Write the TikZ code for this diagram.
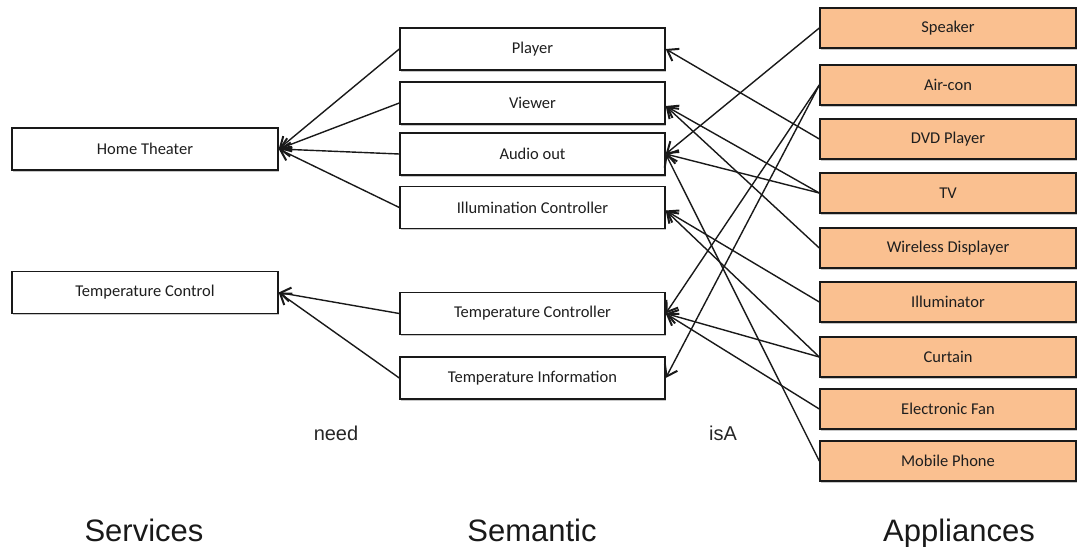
\documentclass[tikz,border=0pt]{standalone}
\usepackage{fontspec}
\setmainfont{Carlito}
\newfontfamily\headfont{Liberation Sans}
\usetikzlibrary{arrows.meta,shadows}
\definecolor{applfill}{HTML}{FAC090}
\definecolor{inktext}{HTML}{1E1E1E}
\tikzset{
  box/.style={draw=black!90, line width=1.4pt, fill=white,
    minimum width=266pt, minimum height=42pt, inner sep=0pt,
    font=\fontsize{16.5}{19}\selectfont, text=inktext,
    drop shadow={shadow xshift=0.6pt, shadow yshift=-1.8pt, opacity=0.22, fill=black}},
  appl/.style={box, fill=applfill, minimum width=256pt, minimum height=40pt},
  link/.style={line width=1.4pt, draw=black!90,
    -{Straight Barb[length=10pt,width=14pt,line width=2pt]}},
  note/.style={font=\headfont\fontsize{20}{24}\selectfont, text=black!85, anchor=base},
  head/.style={font=\headfont\fontsize{31}{36}\selectfont, text=black!90, anchor=base}
}
\begin{document}
\begin{tikzpicture}[x=1pt,y=-1pt]
\useasboundingbox (0,0) rectangle (1078,546);

% services
\node[box] (ht) at (145,149) {Home Theater};
\node[box] (tc) at (145,292.5) {Temperature Control};

% semantic layer
\node[box, minimum width=265pt] (player) at (532.5,49) {Player};
\node[box, minimum width=265pt] (viewer) at (532.5,103) {Viewer};
\node[box, minimum width=265pt] (audio) at (532.5,154) {Audio out};
\node[box, minimum width=265pt] (illum) at (532.5,207.5) {Illumination Controller};
\node[box, minimum width=265pt] (tempc) at (532.5,313.5) {Temperature Controller};
\node[box, minimum width=265pt] (tempi) at (532.5,378) {Temperature Information};

% appliances
\node[appl] (speaker) at (948,28) {Speaker};
\node[appl] (aircon) at (948,85) {Air-con};
\node[appl] (dvd) at (948,139) {DVD Player};
\node[appl] (tv) at (948,193) {TV};
\node[appl] (wdisp) at (948,248) {Wireless Displayer};
\node[appl] (illuminator) at (948,302) {Illuminator};
\node[appl] (curtain) at (948,357) {Curtain};
\node[appl] (fan) at (948,409) {Electronic Fan};
\node[appl] (phone) at (948,461) {Mobile Phone};

% need relations
\draw[link] (player.west) -- (ht.east);
\draw[link] (viewer.west) -- (ht.east);
\draw[link] (audio.west) -- (ht.east);
\draw[link] (illum.west) -- (ht.east);
\draw[link] (tempc.west) -- (tc.east);
\draw[link] (tempi.west) -- (tc.east);

% isA relations
\draw[link] (speaker.west) -- (audio.east);
\draw[link] (aircon.west) -- (tempc.east);
\draw[link] (aircon.west) -- (tempi.east);
\draw[link] (dvd.west) -- (player.east);
\draw[link] (tv.west) -- ([yshift=-3pt]viewer.east);
\draw[link] (tv.west) -- (audio.east);
\draw[link] (wdisp.west) -- ([yshift=-3pt]viewer.east);
\draw[link] (illuminator.west) -- ([yshift=-3pt]illum.east);
\draw[link] (curtain.west) -- ([yshift=-3pt]illum.east);
\draw[link] (curtain.west) -- (tempc.east);
\draw[link] (fan.west) -- (tempc.east);
\draw[link] (phone.west) -- (audio.east);

% relation names and column titles
\node[note] (needlbl) at (336,440) {need};
\node[note] (isalbl) at (723,440) {isA};
\node[head] (svc) at (144,541) {Services};
\node[head] (sem) at (532,541) {Semantic};
\node[head] (app) at (959,541) {Appliances};
\end{tikzpicture}
\end{document}
